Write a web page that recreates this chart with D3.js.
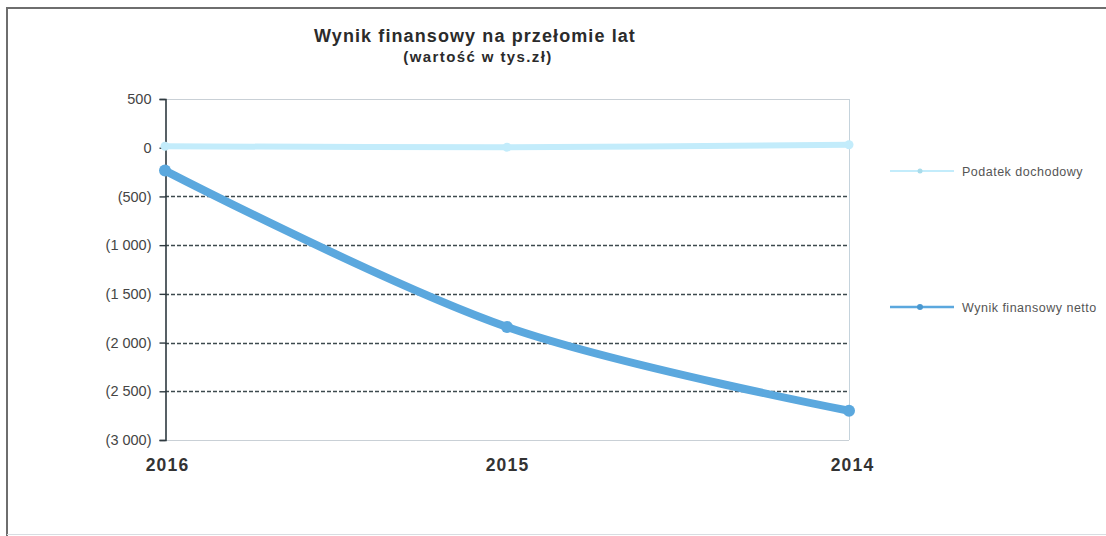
<!DOCTYPE html>
<html>
<head>
<meta charset="utf-8">
<script src="https://cdn.jsdelivr.net/npm/d3@7/dist/d3.min.js"></script>
<style>
  html, body { margin: 0; padding: 0; background: #fff; }
  svg { display: block; font-family: "Liberation Sans", Arial, sans-serif; }
</style>
</head>
<body>
<svg id="chart" width="1106" height="536"></svg>
<script>
// Years on the category axis (drawn left to right as given)
const years = ["2016", "2015", "2014"];
// Values in thousands of PLN
const podatekDochodowy = [15, 5, 30];
const wynikNetto = [-235, -1840, -2700];
// Value-axis ticks
const yTicks = [500, 0, -500, -1000, -1500, -2000, -2500, -3000];

const seriesNames = ["Podatek dochodowy", "Wynik finansowy netto"];
const seriesColors = ["#c3ecfb", "#5ba8de"];

const svg = d3.select("#chart");

// outer frame
svg.append("path")
  .attr("d", "M7,536 V8 H1106")
  .attr("fill", "none")
  .attr("stroke", "#6e6e6e")
  .attr("stroke-width", 2);
svg.append("line")
  .attr("x1", 7).attr("x2", 1106).attr("y1", 534.5).attr("y2", 534.5)
  .attr("stroke", "#d8dde2").attr("stroke-width", 1);

const plot = { left: 165, right: 849, top: 99, bottom: 440 };

const x = d3.scalePoint().domain(years).range([plot.left, plot.right]);
const y = d3.scaleLinear().domain([-3000, 500]).range([plot.bottom, plot.top]);

// gridlines
const g = svg.append("g");
yTicks.forEach(t => {
  const isEdge = t === 500 || t === -3000;
  if (t === 0) return;
  g.append("line")
    .attr("x1", plot.left).attr("x2", plot.right)
    .attr("y1", Math.round(y(t)) + 0.5).attr("y2", Math.round(y(t)) + 0.5)
    .attr("stroke", isEdge ? "#c9d0d6" : "#3d4a4e")
    .attr("stroke-width", isEdge ? 1 : 1.3)
    .attr("stroke-dasharray", isEdge ? null : "4,2");
});

// right edge of plot area
svg.append("line")
  .attr("x1", plot.right + 0.5).attr("x2", plot.right + 0.5)
  .attr("y1", plot.top).attr("y2", plot.bottom)
  .attr("stroke", "#c5d3dc").attr("stroke-width", 1);

// y axis
const yAxis = d3.axisLeft(y).tickValues(yTicks).tickSize(6).tickPadding(8)
  .tickFormat(d => {
    if (d === 0) return "0";
    const s = d3.format(",")(Math.abs(d)).replace(/,/g, " ");
    return d < 0 ? "(" + s + ")" : s;
  });
const ya = svg.append("g").attr("transform", `translate(${plot.left + 0.5},0)`).call(yAxis);
ya.select(".domain").attr("stroke", "#2f3a40").attr("stroke-width", 1.6);
ya.selectAll(".tick line").attr("stroke", "#2f3a40").attr("stroke-width", 1.4);
ya.selectAll(".tick text").attr("fill", "#454545").attr("font-size", 14.5);

// x axis labels
const xa = svg.append("g").attr("transform", `translate(0,${plot.bottom})`)
  .call(d3.axisBottom(x).tickSize(0).tickPadding(19));
xa.select(".domain").remove();
xa.selectAll(".tick text")
  .attr("fill", "#333").attr("font-size", 17.5).attr("font-weight", "bold")
  .attr("letter-spacing", 1.2)
  .attr("dx", (d, i) => i === 0 ? 2 : (i === years.length - 1 ? 3 : 0));

// series lines
const line = d3.line()
  .x((d, i) => x(years[i]))
  .y(d => y(d))
  .curve(d3.curveCatmullRom.alpha(0.5));

svg.append("path")
  .datum(podatekDochodowy)
  .attr("d", line)
  .attr("fill", "none")
  .attr("stroke", seriesColors[0])
  .attr("stroke-width", 6)
  .attr("stroke-linecap", "round");
svg.selectAll(".pd")
  .data(podatekDochodowy).enter().append("circle")
  .attr("cx", (d, i) => x(years[i])).attr("cy", d => y(d))
  .attr("r", 4.5).attr("fill", seriesColors[0]);

svg.append("path")
  .datum(wynikNetto)
  .attr("d", line)
  .attr("fill", "none")
  .attr("stroke", seriesColors[1])
  .attr("stroke-width", 8)
  .attr("stroke-linecap", "round");
svg.selectAll(".wn")
  .data(wynikNetto).enter().append("circle")
  .attr("cx", (d, i) => x(years[i])).attr("cy", d => y(d))
  .attr("r", 6).attr("fill", seriesColors[1]);

// titles
svg.append("text")
  .attr("x", 475).attr("y", 42)
  .attr("text-anchor", "middle")
  .attr("font-size", 18).attr("font-weight", "bold").attr("fill", "#2b2b2b")
  .attr("letter-spacing", 1.1)
  .text("Wynik finansowy  na przełomie lat");
svg.append("text")
  .attr("x", 478).attr("y", 62)
  .attr("text-anchor", "middle")
  .attr("font-size", 15).attr("font-weight", "bold").attr("fill", "#2b2b2b")
  .attr("letter-spacing", 1.4)
  .text("(wartość w tys.zł)");

// legend
const legendY = [171, 307];
const lg = svg.append("g");
seriesNames.forEach((name, i) => {
  const row = lg.append("g").attr("transform", `translate(0,${legendY[i]})`);
  row.append("line")
    .attr("x1", 890).attr("x2", 954).attr("y1", 0).attr("y2", 0)
    .attr("stroke", seriesColors[i]).attr("stroke-width", i === 0 ? 2 : 2.5);
  row.append("circle").attr("cx", 920).attr("cy", 0).attr("r", i === 0 ? 2.5 : 3)
    .attr("fill", i === 0 ? "#a9dceb" : "#4a98d0");
  row.append("text")
    .attr("x", 962).attr("y", 4.5)
    .attr("font-size", 12.5).attr("fill", "#555")
    .attr("letter-spacing", 0.5)
    .text(name);
});
</script>
</body>
</html>
